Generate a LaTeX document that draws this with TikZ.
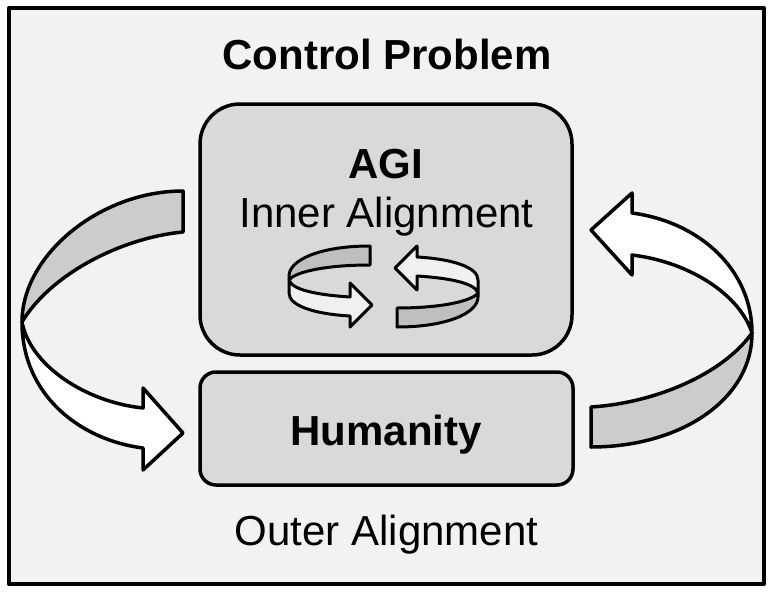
\documentclass[tikz,border=0pt]{standalone}
\usepackage{fontspec}
\setmainfont{Liberation Sans}
\definecolor{paper}{gray}{0.95}
\definecolor{boxgray}{gray}{0.85}
\definecolor{bandgray}{gray}{0.8}
\definecolor{icongray}{gray}{0.75}
\definecolor{iconwhite}{gray}{0.94}

\begin{document}
\begin{tikzpicture}[x=1pt,y=-1pt,line join=round,
    block/.style={draw,fill=boxgray,line width=3.5pt,inner sep=0pt},
    caption/.style={font=\fontsize{42}{50}\selectfont,anchor=base,inner sep=0pt},
    ribbon/.style={draw,line width=3.5pt},
    spin/.style={draw,line width=3pt}]
    \useasboundingbox (0,0) rectangle (771,594);

    \node[draw,fill=paper,line width=4pt,minimum width=755pt,minimum height=576pt] (frame) at (386.5,296) {};
    \node[caption,font=\fontsize{42}{50}\selectfont\bfseries] (title) at (387,70) {Control Problem};

    \node[block,rounded corners=40pt,minimum width=372pt,minimum height=251pt] (agi) at (386,229.5) {};
    \node[block,rounded corners=16pt,minimum width=373pt,minimum height=113pt] (hum) at (386.5,428.5) {};

    \node[caption,font=\fontsize{42}{50}\selectfont\bfseries] (agilabel) at (386,178) {AGI};
    \node[caption] (inner) at (386.5,227) {Inner Alignment};
    \node[caption,font=\fontsize{42}{50}\selectfont\bfseries] (humlabel) at (386,445) {Humanity};
    \node[caption] (outer) at (386.5,545) {Outer Alignment};

    % left ribbon, AGI down to humanity
    \draw[ribbon,fill=bandgray] (183,191) .. controls (100,191) and (22,255) .. (22,322)
        .. controls (50,275) and (120,238) .. (183,232) -- cycle;
    \draw[ribbon,fill=white] (22,322) .. controls (22,395) and (80,440) .. (143,448)
        -- (143,470) -- (183,433) -- (143,388) -- (143,408)
        .. controls (85,402) and (30,365) .. (22,322) -- cycle;

    % right ribbon, humanity back up to AGI
    \draw[ribbon,fill=bandgray] (591,447) .. controls (680,447) and (752,400) .. (752,333)
        .. controls (722,375) and (654,403) .. (591,407) -- cycle;
    \draw[ribbon,fill=white] (752,333) .. controls (752,270) and (700,222) .. (632,213)
        -- (632,193) -- (591,230) -- (632,275) -- (632,255)
        .. controls (690,262) and (740,295) .. (752,333) -- cycle;

    % inner loop icon
    \foreach \ang in {0,180} {
    \begin{scope}[rotate around={\ang:(383.5,286.5)}]
    \draw[spin,fill=icongray] (370,246) .. controls (320,246) and (289,260) .. (289,276)
        -- (289,280) .. controls (295,272) and (325,265) .. (370,265) -- cycle;
    \draw[spin,fill=iconwhite] (289,280) -- (289,293) .. controls (289,306) and (315,314) .. (350,316)
        -- (350,327) -- (372,305) -- (350,283) -- (350,297)
        .. controls (318,295) and (292,290) .. (289,280) -- cycle;
    \end{scope}
    }
\end{tikzpicture}
\end{document}
